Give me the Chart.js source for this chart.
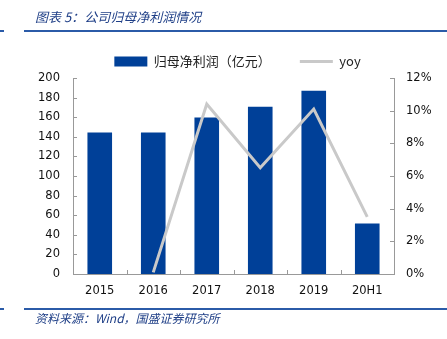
<!DOCTYPE html>
<html><head><meta charset="utf-8">
<script src="https://cdn.jsdelivr.net/npm/chart.js@4/dist/chart.umd.min.js"></script>
<style>
html,body{margin:0;padding:0;background:#fff;width:447px;height:339px;overflow:hidden;}
#wrap{position:absolute;left:0;top:0;width:447px;height:339px;}
.t{position:absolute;font-family:"Noto Sans CJK SC","Noto Sans",sans-serif;font-style:italic;color:#1F3F87;white-space:nowrap;}
.rule{position:absolute;height:2px;background:#2B5BA8;}
</style></head>
<body>
<div id="wrap"><canvas id="c" width="447" height="339"></canvas></div>
<div class="t" style="left:35px;top:7px;font-size:13px;">图表 5：公司归母净利润情况</div>
<div class="rule" style="left:0;top:30px;width:4px;"></div>
<div class="rule" style="left:24px;top:30px;width:423px;"></div>
<div class="rule" style="left:0;top:308px;width:4px;"></div>
<div class="rule" style="left:24px;top:308px;width:423px;"></div>
<div class="t" style="left:35px;top:309px;font-size:12px;">资料来源：Wind，国盛证券研究所</div>
<script>
const categories = ["2015","2016","2017","2018","2019","20H1"];
const profit = [144.5, 144.5, 159.7, 170.6, 187, 51.5];
const yoy = [null, 0.1, 10.4, 6.5, 10.1, 3.5];
const leftTicks = [0,20,40,60,80,100,120,140,160,180,200];
const rightTicks = [0,2,4,6,8,10,12];

const axisColor = "#999999";
const innerTicks = {
  id: "innerTicks",
  afterDraw(chart) {
    const ctx = chart.ctx, a = chart.chartArea;
    const yl = chart.scales.y, yr = chart.scales.y1;
    ctx.save();
    ctx.strokeStyle = axisColor; ctx.lineWidth = 1;
    ctx.beginPath();
    leftTicks.forEach(v => { const p = Math.round(yl.getPixelForValue(v)) + 0.5; ctx.moveTo(a.left, p); ctx.lineTo(a.left + 4, p); });
    rightTicks.forEach(v => { const p = Math.round(yr.getPixelForValue(v)) + 0.5; ctx.moveTo(a.right - 4, p); ctx.lineTo(a.right, p); });
    const n = categories.length, w = (a.right - a.left) / n;
    for (let i = 0; i <= n; i++) { const p = Math.round(a.left + i * w) + 0.5; ctx.moveTo(p, a.bottom); ctx.lineTo(p, a.bottom - 4); }
    ctx.stroke();
    ctx.restore();
  }
};

new Chart(document.getElementById("c"), {
  data: {
    labels: categories,
    datasets: [
      { type: "bar", label: "归母净利润（亿元）", data: profit, backgroundColor: "#004098", yAxisID: "y", order: 2,
        barPercentage: 0.46, categoryPercentage: 1.0 },
      { type: "line", label: "yoy", data: yoy, borderColor: "#C9C9C9", backgroundColor: "#C9C9C9", borderWidth: 3,
        pointRadius: 0, tension: 0, yAxisID: "y1", order: 1, borderJoinStyle: "miter", spanGaps: false }
    ]
  },
  plugins: [innerTicks],
  options: {
    responsive: false, animation: false,
    layout: { padding: { top: 26, left: 28, right: 0, bottom: 31 } },
    plugins: {
      tooltip: { enabled: false },
      legend: {
        position: "top",
        labels: {
          usePointStyle: true, pointStyleWidth: 33, boxHeight: 10, padding: 29,
          color: "#222", font: { family: "'Noto Sans CJK SC','DejaVu Sans',sans-serif", size: 13 },
          sort: (a, b) => a.datasetIndex - b.datasetIndex,
          generateLabels(chart) {
            const items = Chart.defaults.plugins.legend.labels.generateLabels(chart);
            items.forEach(it => {
              if (it.datasetIndex === 0) { it.pointStyle = "rect"; it.lineWidth = 0; it.strokeStyle = "#004098"; }
              else { it.pointStyle = "line"; it.lineWidth = 3; it.strokeStyle = "#C9C9C9"; }
            });
            return items;
          }
        }
      }
    },
    scales: {
      x: {
        grid: { display: false, drawTicks: false },
        border: { display: true, color: axisColor },
        ticks: { color: "#111", padding: 10, font: { family: "'DejaVu Sans',sans-serif", size: 11.5 } },
        afterFit(s) { s.height = 34; }
      },
      y: {
        position: "left", min: 0, max: 200,
        afterBuildTicks(s) { s.ticks = leftTicks.map(v => ({ value: v })); },
        grid: { display: false, drawTicks: false },
        border: { display: true, color: axisColor },
        ticks: { color: "#111", padding: 13, font: { family: "'DejaVu Sans',sans-serif", size: 11.5 } },
        afterFit(s) { s.width = 45; }
      },
      y1: {
        position: "right", min: 0, max: 12,
        afterBuildTicks(s) { s.ticks = rightTicks.map(v => ({ value: v })); },
        grid: { display: false, drawTicks: false },
        border: { display: true, color: axisColor },
        ticks: { color: "#111", padding: 12, callback: v => v + "%", font: { family: "'DejaVu Sans',sans-serif", size: 11.5 } },
        afterFit(s) { s.width = 53; }
      }
    }
  }
});
</script>
</body></html>
